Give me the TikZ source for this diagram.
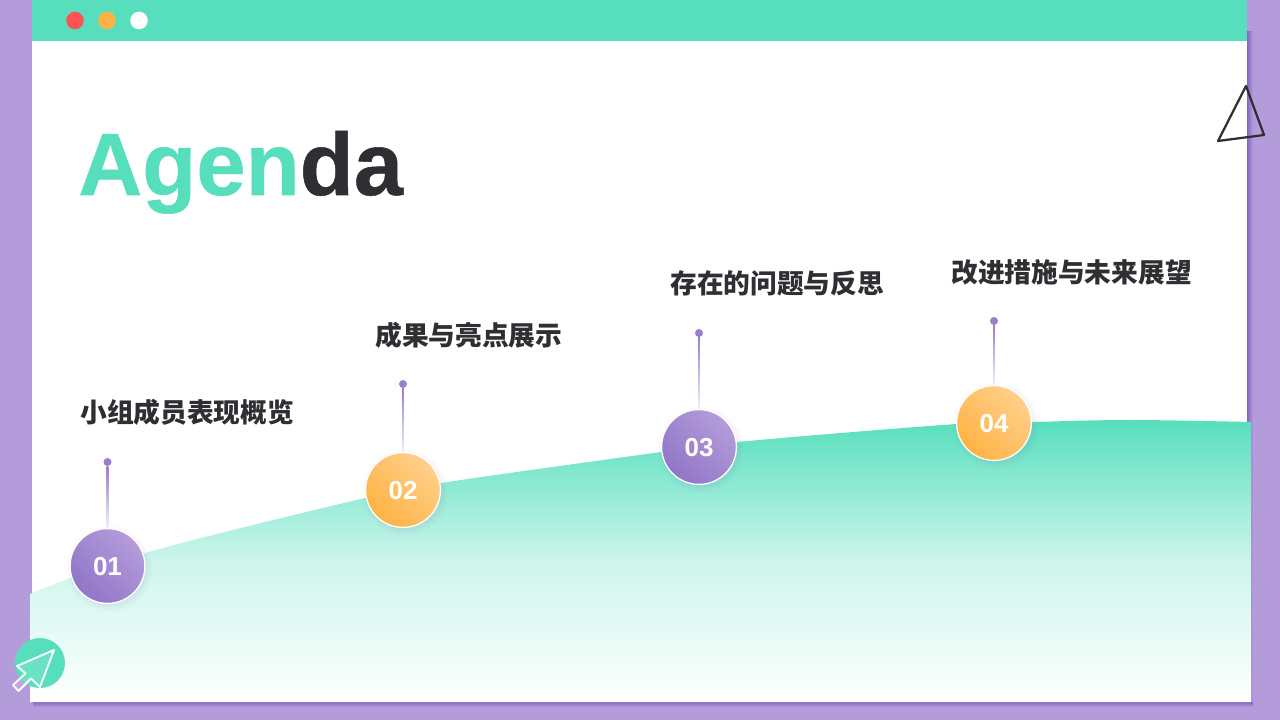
\documentclass[tikz,border=0pt]{standalone}
\usepackage{fontspec}
\usepackage{xcolor}
\usepackage{tikz}
\usetikzlibrary{calc}
\setmainfont{Liberation Sans}
\newfontfamily\cjkfont{Noto Sans CJK SC}
\newfontfamily\titlefont[FakeBold=0.6]{Liberation Sans Bold}
\definecolor{agendaLilac}{HTML}{B49CDA}
\definecolor{agendaShadow}{HTML}{8566C2}
\definecolor{agendaMint}{HTML}{57DFBD}
\definecolor{agendaInk}{HTML}{2F2F33}
\definecolor{agendaRed}{HTML}{FF5254}
\definecolor{agendaAmber}{HTML}{FFB244}
\definecolor{agendaPurple}{HTML}{9B7ECB}
\newcommand{\softShadow}[1]{%
  \foreach \r in {37,38.5,...,43}{\fill[agendaShadow,opacity=0.018] ($(#1)+(2,3)$) circle[radius=\r];}}
\newcommand{\stemLine}[2]{%
  \draw[stemBase] (#1) -- (#2);
  \shade[top color=agendaPurple,bottom color=agendaPurple!12] ($(#1.south)+(-0.8,0)$) rectangle ($(#2.north)+(0.8,0)$);}
\tikzset{
  purpleNum/.style={
    circle,
    draw=white,
    line width=0.9pt,
    minimum size=1.87cm,
    inner sep=0pt,
    left color=agendaLilac,
    right color=agendaShadow!90,
    shading angle=-45,
    text=white,
    font=\bfseries\fontsize{18.5}{20}\selectfont
  },
  amberNum/.style={
    purpleNum,
    left color=agendaAmber!62,
    right color=agendaAmber,
    shading angle=-45
  },
  stemDot/.style={
    circle,
    fill=agendaPurple,
    minimum size=0.2cm,
    inner sep=0pt
  },
  stemBase/.style={
    line width=0.5pt,
    draw=agendaPurple!50
  },
  topicLabel/.style={
    anchor=west,
    inner sep=0pt,
    text=agendaInk,
    font=\cjkfont\bfseries\fontsize{19}{22}\selectfont
  },
  winDot/.style={
    circle,
    minimum size=0.44cm,
    inner sep=0pt
  }
}
\begin{document}
\begin{tikzpicture}[x=0.025cm,y=-0.025cm]
  \useasboundingbox (0,0) rectangle (1280,720);
  \fill[agendaLilac] (0,0) rectangle (1280,720);
  % panel
  \shade[left color=agendaShadow,right color=agendaLilac] (1247,32) rectangle (1253,706);
  \shade[top color=agendaShadow,bottom color=agendaLilac] (33,702) rectangle (1253,707);
  \fill[white] (32.3,0) rectangle (1247,702);
  \fill[agendaMint] (32.3,0) rectangle (1247,41);
  \node[winDot,fill=agendaRed] (winRed) at (75,20.5) {};
  \node[winDot,fill=agendaAmber] (winAmber) at (107,20.5) {};
  \node[winDot,fill=white] (winWhite) at (139,20.5) {};
  % hill
  \shade[top color=agendaMint,bottom color=white,middle color=agendaMint!30]
    plot[smooth,tension=0.6] coordinates {(30,594) (145,553) (365,498) (441,483) (661,452) (737,442) (957,424) (1032,422) (1130,420) (1251,422)}
    -- (1251,702) -- (30,702) -- cycle;
  % title
  \node[anchor=base west,inner sep=0pt,font=\titlefont\fontsize{63}{70}\selectfont] (title) at (78,195) {\textcolor{agendaMint}{Agen}\textcolor{agendaInk}{da}};
  % labels
  \node[topicLabel] (label1) at (80,412) {小组成员表现概览};
  \node[topicLabel] (label2) at (375,335) {成果与亮点展示};
  \node[topicLabel] (label3) at (670,283) {存在的问题与反思};
  \node[topicLabel] (label4) at (951,272) {改进措施与未来展望};
  % steps
  \softShadow{107.5,566}
  \softShadow{403,490}
  \softShadow{699,447}
  \softShadow{994,423}
  \node[stemDot] (dot1) at (107.5,462) {};
  \node[stemDot] (dot2) at (403,384) {};
  \node[stemDot] (dot3) at (699,333) {};
  \node[stemDot] (dot4) at (994,321) {};
  \node[purpleNum,text depth=-4pt] (num1) at (107.5,566) {01};
  \node[amberNum,text depth=-4pt] (num2) at (403,490) {02};
  \node[purpleNum,text depth=-4pt] (num3) at (699,447) {03};
  \node[amberNum,text depth=-4pt] (num4) at (994,423) {04};
  \stemLine{dot1}{num1}
  \stemLine{dot2}{num2}
  \stemLine{dot3}{num3}
  \stemLine{dot4}{num4}
  % corner marks
  \draw[agendaInk,line width=1.6pt,line join=round] (1246,86) -- (1264,135) -- (1218,141) -- cycle;
  \fill[agendaMint] (40,663) circle[radius=25];
  \draw[white,line width=1.3pt,line join=round,fill=white,fill opacity=0.12] (54,650) -- (17,666) -- (25.5,673.5) -- (13,685) -- (18.5,691) -- (31,678.5) -- (40,687) -- cycle;
\end{tikzpicture}
\end{document}
